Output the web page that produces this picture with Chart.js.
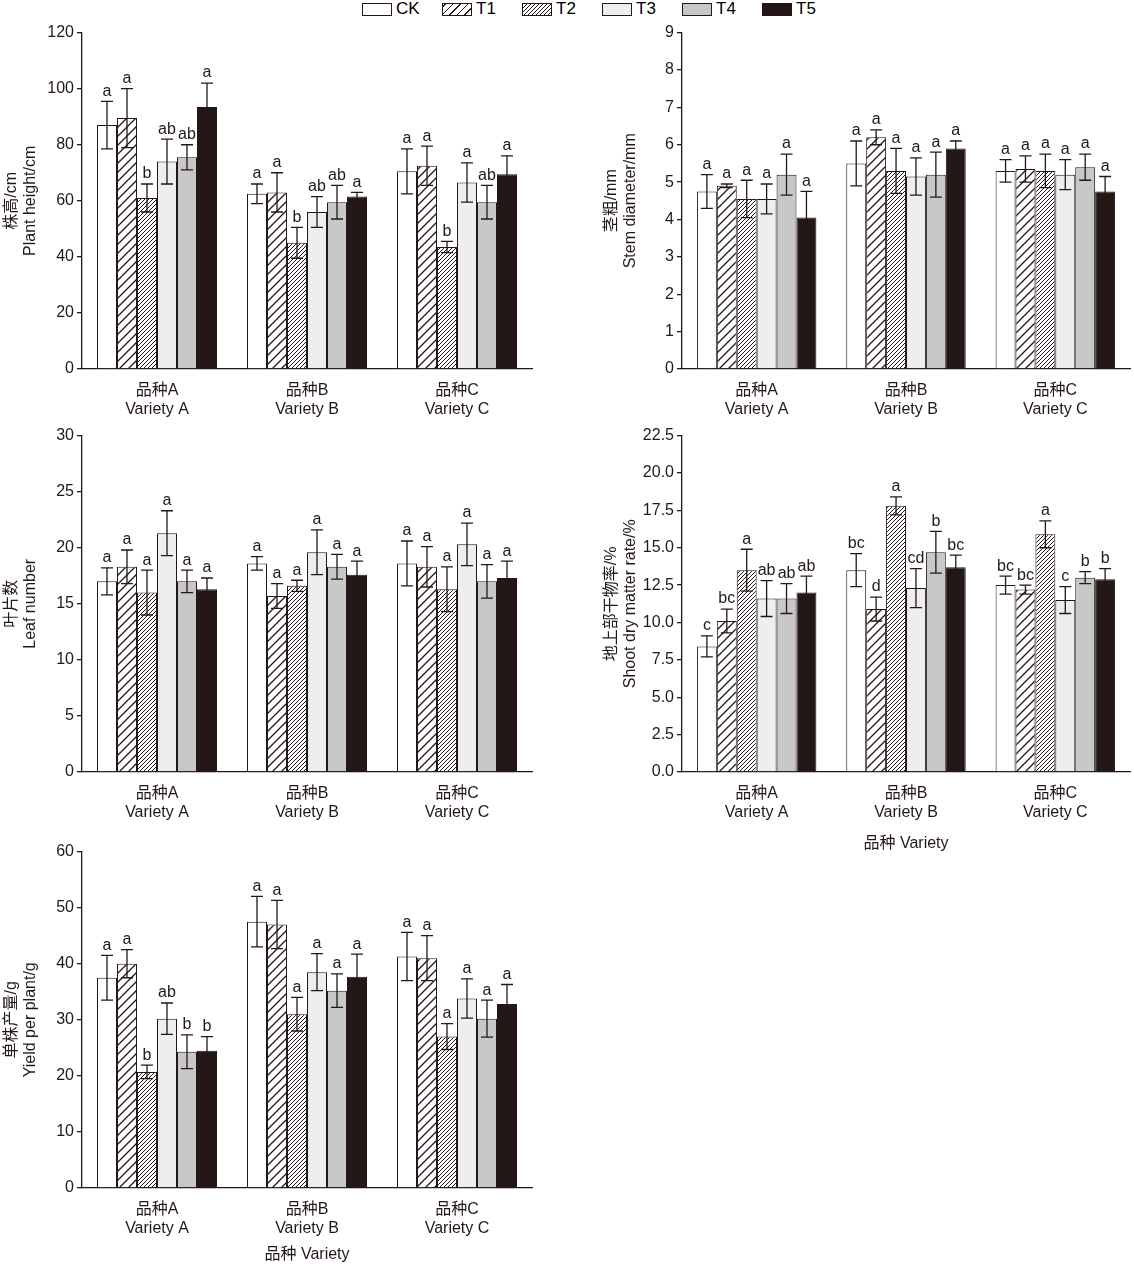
<!DOCTYPE html>
<html><head><meta charset="utf-8">
<script src="https://cdn.jsdelivr.net/npm/chart.js@4"></script>
<style>
body{margin:0;background:#fff;width:1134px;height:1264px;position:relative;overflow:hidden;font-family:"Liberation Sans","Noto Sans CJK SC",sans-serif}
canvas{position:absolute}
#legend{position:absolute;top:0;left:362px;display:flex;font-size:17px;line-height:18px}
#legend span{display:flex;align-items:center;gap:4px;width:80px}
#legend i{display:inline-block;width:30px;height:13px;border:1px solid #231815;box-sizing:border-box}
</style></head><body>
<div id="legend"></div>
<canvas id="c1"></canvas><canvas id="c2"></canvas><canvas id="c3"></canvas><canvas id="c4"></canvas><canvas id="c5"></canvas>
<script>
// ── Dados ────────────────────────────────────────────────
const categorias  = [['品种A', 'Variety A'], ['品种B', 'Variety B'], ['品种C', 'Variety C']];
const tratamentos = ['CK', 'T1', 'T2', 'T3', 'T4', 'T5'];

// cada linha = um tratamento, colunas = [A, B, C]
const alturaMedia = [[87, 62.5, 70.5], [89.5, 63, 72.5], [61, 45, 43.5], [74, 56, 66.5], [75.5, 59.5, 59.5], [93.5, 61.5, 69.5]];
const alturaErro  = [[8.5, 3.5, 8], [10.5, 7, 7], [5, 5.5, 2], [8, 5.5, 7], [4.5, 6, 6], [8.5, 1.5, 6.5]];
const alturaLetra = [['a','a','a'], ['a','a','a'], ['b','b','b'], ['ab','ab','a'], ['ab','ab','ab'], ['a','a','a']];

const cauleMedia = [[4.75, 5.5, 5.3], [4.9, 6.2, 5.35], [4.55, 5.3, 5.3], [4.55, 5.15, 5.2], [5.2, 5.2, 5.4], [4.05, 5.9, 4.75]];
const cauleErro  = [[0.45, 0.6, 0.3], [0.05, 0.2, 0.35], [0.5, 0.6, 0.45], [0.4, 0.5, 0.4], [0.55, 0.6, 0.35], [0.7, 0.2, 0.4]];
const cauleLetra = [['a','a','a'], ['a','a','a'], ['a','a','a'], ['a','a','a'], ['a','a','a'], ['a','a','a']];

const folhaMedia = [[17, 18.6, 18.6], [18.3, 15.7, 18.3], [16, 16.6, 16.3], [21.3, 19.6, 20.3], [17, 18.3, 17], [16.3, 17.6, 17.3]];
const folhaErro  = [[1.2, 0.6, 2], [1.5, 1.1, 1.8], [2, 0.5, 2], [2, 2, 1.9], [1, 1.1, 1.5], [1, 1.2, 1.5]];
const folhaLetra = [['a','a','a'], ['a','a','a'], ['a','a','a'], ['a','a','a'], ['a','a','a'], ['a','a','a']];

const secaMedia = [[8.4, 13.5, 12.5], [10.1, 10.9, 12.2], [13.5, 17.8, 15.9], [11.6, 12.3, 11.5], [11.6, 14.7, 13], [12, 13.7, 12.9]];
const secaErro  = [[0.7, 1.1, 0.6], [0.8, 0.8, 0.3], [1.4, 0.6, 0.9], [1.2, 1.3, 0.9], [1, 1.4, 0.4], [1.1, 0.8, 0.7]];
const secaLetra = [['c','bc','bc'], ['bc','d','bc'], ['a','a','a'], ['ab','cd','c'], ['ab','b','b'], ['ab','bc','b']];

const prodMedia = [[37.5, 47.5, 41.3], [40, 47, 41], [20.7, 31, 27], [30.2, 38.5, 33.8], [24.3, 35.2, 30.2], [24.5, 37.7, 32.8]];
const prodErro  = [[4, 4.5, 4.3], [2.5, 4.3, 4], [1.2, 3, 2.3], [2.8, 3.3, 3.5], [3, 3, 3.3], [2.5, 4, 3.5]];
const prodLetra = [['a','a','a'], ['a','a','a'], ['b','a','a'], ['ab','a','a'], ['b','a','a'], ['b','a','a']];

// ── Estilos ──────────────────────────────────────────────
const PRETO = '#231815';
const FONTE = '"Liberation Sans","Noto Sans CJK SC",sans-serif';

function hachura(passo, larg) {
    const c = document.createElement('canvas');
    c.width = c.height = passo;
    const g = c.getContext('2d');
    g.fillStyle = '#fff'; g.fillRect(0, 0, passo, passo);
    g.strokeStyle = PRETO; g.lineWidth = larg;
    g.beginPath();
    g.moveTo(-1, passo + 1); g.lineTo(passo + 1, -1);
    g.moveTo(-1, 1); g.lineTo(1, -1);
    g.moveTo(passo - 1, passo + 1); g.lineTo(passo + 1, passo - 1);
    g.stroke();
    return g.createPattern(c, 'repeat');
}
const cores = ['#ffffff', hachura(9, 1.3), hachura(4, 1), '#eeeeee', '#c8c8c8', PRETO];
const coresLegenda = ['#fff',
    'repeating-linear-gradient(-45deg,#fff 0 4px,#231815 4px 5.3px)',
    'repeating-linear-gradient(-45deg,#fff 0 1.8px,#231815 1.8px 2.8px)',
    '#eee', '#c8c8c8', PRETO];

document.getElementById('legend').innerHTML = tratamentos.map((t, i) =>
    `<span><i style="background:${coresLegenda[i]}"></i>${t}</span>`).join('');

// ── Plugin: barras de erro e letras ──────────────────────
const pluginErro = {
    id: 'erro',
    afterDatasetsDraw(chart) {
        const g = chart.ctx, ys = chart.scales.y;
        chart.data.datasets.forEach((ds, i) => {
            chart.getDatasetMeta(i).data.forEach((bar, j) => {
                const v = ds.data[j], e = ds.erro[j];
                const yT = ys.getPixelForValue(v + e), yB = ys.getPixelForValue(v - e);
                g.save();
                g.strokeStyle = PRETO; g.lineWidth = 1.3;
                g.beginPath();
                g.moveTo(bar.x, yT); g.lineTo(bar.x, yB);
                g.moveTo(bar.x - 6, yT); g.lineTo(bar.x + 6, yT);
                g.moveTo(bar.x - 6, yB); g.lineTo(bar.x + 6, yB);
                g.stroke();
                g.fillStyle = PRETO;
                g.font = '16px ' + FONTE;
                g.textAlign = 'center'; g.textBaseline = 'bottom';
                g.fillText(ds.letra[j], bar.x, yT - 2);
                g.restore();
            });
        });
    }
};

function painel(id, pos, medias, erros, letras, tituloY, max, passo, tituloX, decimais) {
    const cv = document.getElementById(id);
    cv.style.left = pos.left + 'px'; cv.style.top = pos.top + 'px';
    cv.width = pos.w; cv.height = pos.h;
    new Chart(cv, {
        type: 'bar',
        data: {
            labels: categorias,
            datasets: tratamentos.map((t, i) => ({
                label: t, data: medias[i], erro: erros[i], letra: letras[i],
                backgroundColor: cores[i], borderColor: PRETO, borderWidth: 1,
                categoryPercentage: 0.8, barPercentage: 1
            }))
        },
        options: {
            responsive: false, animation: false, devicePixelRatio: 1,
            layout: { padding: { top: 10, right: pos.right, left: 0, bottom: 0 } },
            plugins: { legend: { display: false }, tooltip: { enabled: false } },
            scales: {
                x: {
                    afterFit: s => { s.height = pos.h - 10 - 339; },
                    grid: { display: false },
                    border: { display: true, color: PRETO, width: 1.3 },
                    ticks: { color: PRETO, font: { size: 16, family: FONTE }, padding: 4, maxRotation: 0 },
                    title: { display: !!tituloX, text: tituloX, color: PRETO, font: { size: 16, family: FONTE }, padding: 0 }
                },
                y: {
                    min: 0, max: max,
                    afterFit: s => { s.width = 82; },
                    grid: { display: true, drawOnChartArea: false, drawTicks: true, tickLength: 5, color: PRETO, lineWidth: 1.3 },
                    border: { display: true, color: PRETO, width: 1.3 },
                    ticks: { stepSize: passo, color: PRETO, font: { size: 16, family: FONTE }, padding: 3,
                             callback: v => decimais ? v.toFixed(1) : v },
                    title: { display: true, text: tituloY, color: PRETO, font: { size: 16, family: FONTE }, padding: 2 }
                }
            }
        },
        plugins: [pluginErro]
    });
}

painel('c1', { left: 0, top: 20, w: 540, h: 400, right: 8 }, alturaMedia, alturaErro, alturaLetra,
       ['株高/cm', 'Plant height/cm'], 120, 20, '', false);
painel('c2', { left: 600, top: 20, w: 534, h: 400, right: 4 }, cauleMedia, cauleErro, cauleLetra,
       ['茎粗/mm', 'Stem diameter/mm'], 9, 1, '', false);
painel('c3', { left: 0, top: 423, w: 540, h: 400, right: 8 }, folhaMedia, folhaErro, folhaLetra,
       ['叶片数', 'Leaf number'], 30, 5, '', false);
painel('c4', { left: 600, top: 423, w: 534, h: 430, right: 4 }, secaMedia, secaErro, secaLetra,
       ['地上部干物率/%', 'Shoot dry matter rate/%'], 22.5, 2.5, '品种 Variety', true);
painel('c5', { left: 0, top: 839, w: 540, h: 425, right: 8 }, prodMedia, prodErro, prodLetra,
       ['单株产量/g', 'Yield per plant/g'], 60, 10, '品种 Variety', false);
</script>
</body></html>
